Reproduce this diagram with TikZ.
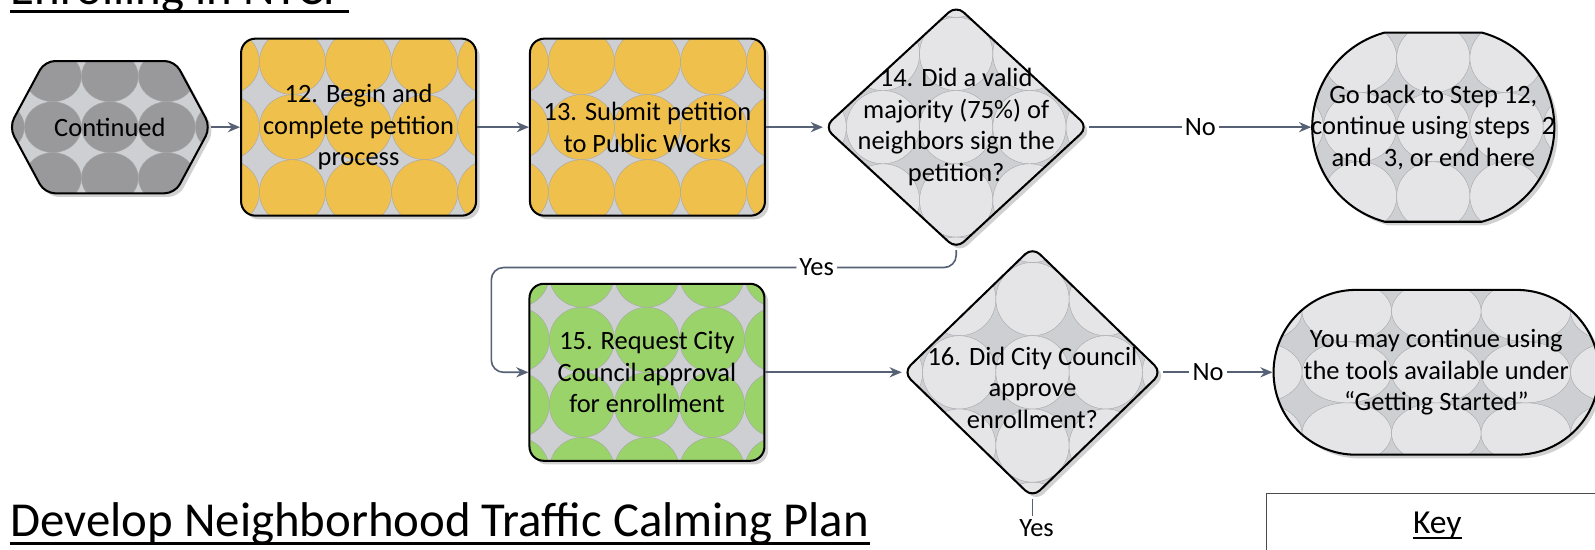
\documentclass[tikz,border=0pt]{standalone}
\usepackage{fontspec}
\setmainfont{Carlito}
\usepackage{tikz}
\usepackage{xcolor}
\usetikzlibrary{shapes.geometric,shapes.misc,arrows.meta,shadows}
\definecolor{petal-yellow}{RGB}{240,192,76}
\definecolor{petal-green}{RGB}{155,211,107}
\definecolor{petal-dark}{RGB}{153,153,155}
\definecolor{petal-light}{RGB}{229,229,231}
\definecolor{petal-gap}{RGB}{206,207,211}
\definecolor{link-gray}{RGB}{86,97,117}
\newcommand{\stepfont}{\fontsize{13}{15.5}\selectfont}
\newcommand{\headfont}{\fontsize{24}{29}\selectfont}
\newcommand{\keyfont}{\fontsize{16.5}{20}\selectfont}
\tikzset{
    petals/.style n args={5}{path picture={
        \fill[#2] (path picture bounding box.south west) rectangle (path picture bounding box.north east);
        \foreach \i in {-6,...,6}
            \foreach \j in {-4,...,4}
                \filldraw[fill=#1, draw=#2!80!black, line width=0.2pt]
                    ([xshift=\i*#3, yshift=\j*#4+#5]path picture bounding box.center)
                    ellipse [x radius=#3/2, y radius=#4/2];
    }},
    lifted/.style = {drop shadow={shadow xshift=1.8pt, shadow yshift=-1.8pt, fill=black!30, opacity=.6}},
    step-box/.style = {draw=black, line width=1pt, rectangle, rounded corners=7pt, lifted,
        minimum width=115.5pt, minimum height=87pt, inner sep=0pt, align=center, font=\stepfont},
    step-yellow/.style = {step-box, petals={petal-yellow}{petal-gap}{32.5pt}{32pt}{0pt}},
    step-green/.style = {step-box, petals={petal-green}{petal-gap}{32pt}{32pt}{16pt}},
    decision/.style = {draw=black, line width=1pt, diamond, rounded corners=5pt, lifted, inner sep=0pt,
        petals={petal-light}{petal-gap}{36pt}{36pt}{0pt}},
    terminal/.style = {draw=black, line width=1pt, rounded rectangle, lifted, inner sep=0pt},
    hexa-box/.style = {draw=black, line width=1pt, rounded corners=5pt, lifted,
        petals={petal-dark}{petal-gap}{28pt}{25pt}{0pt}},
    step-text/.style = {align=center, font=\stepfont, inner sep=0pt},
    link/.style = {draw=link-gray, line width=0.8pt, -{Stealth[length=6pt,width=5pt]}},
    link-label/.style = {fill=white, inner sep=1.5pt, font=\stepfont},
    head-title/.style = {anchor=base west, inner sep=0pt, font=\headfont},
}

\begin{document}
\begin{tikzpicture}[x=0.5pt, y=-0.5pt]
\path[use as bounding box] (0,0) rectangle (1568,540);
\node[head-title] (enroll) at (10,4) {Enrolling in NTCP};
\draw[line width=1.4pt] ([yshift=-3.5pt]enroll.base west) -- ([yshift=-3.5pt]enroll.base east);
\node[head-title] (develop) at (10,527) {Develop Neighborhood Traffic Calming Plan};
\draw[line width=1.4pt] ([yshift=-3.5pt]develop.base west) -- ([yshift=-3.5pt]develop.base east);

\draw[hexa-box] (9,125) -- (44,60) -- (172,60) -- (207,125) -- (172,190) -- (44,190) -- cycle;
\node[step-text, minimum width=99pt, minimum height=65pt] (cont) at (108,125) {Continued};
\node[step-yellow] (s12) at (352.5,125) {12. Begin and\\complete petition\\process};
\node[step-yellow] (s13) at (636.5,125) {13. Submit petition\\to Public Works};
\node[decision, minimum width=130pt, minimum height=120pt] (q14) at (940,125) {};
\node[step-text] (q14-text) at (q14) {14. Did a valid\\majority (75\%) of\\neighbors sign the\\petition?};
\node[terminal, rounded rectangle arc length=150, minimum width=119pt, minimum height=93pt,
    petals={petal-light}{petal-gap}{36pt}{34pt}{0pt}] (t1) at (1409,125) {};
\node[step-text] (t1-text) at (t1) {Go back to Step 12,\\continue using steps\ \ 2\\and\ \ 3, or end here};

\node[step-green] (s15) at (636,366) {15. Request City\\Council approval\\for enrollment};
\node[decision, minimum width=127.5pt, minimum height=123.5pt] (q16) at (1015,366) {};
\node[step-text] (q16-text) at (1015,381) {16. Did City Council\\approve\\enrollment?};
\node[terminal, minimum width=160pt, minimum height=81pt,
    petals={petal-light}{petal-gap}{44pt}{30pt}{0pt}] (t2) at (1412,366) {};
\node[step-text] (t2-text) at (t2) {You may continue using\\the tools available under\\“Getting Started”};

\coordinate (yes-turn) at (483,263);
\coordinate (yes-end) at (1015,507);
\draw[link] (cont.east) -- (s12.west);
\draw[link] (s12.east) -- (s13.west);
\draw[link] (s13.east) -- (q14.west);
\draw[link] (q14.east) -- node[link-label]{No} (t1.west);
\draw[link, rounded corners=6pt] (q14.south) |- node[link-label, pos=.65]{Yes} (yes-turn) |- (s15.west);
\draw[link] (s15.east) -- (q16.west);
\draw[link] (q16.east) -- node[link-label, pos=.41]{No} (t2.west);
\draw[link, -] (q16.south) -- (yes-end) node[link-label, anchor=north, xshift=2pt] (yes-low) {Yes};

\draw[draw=black!70, line width=0.6pt] (1245,485) rectangle (1600,570);
\node[anchor=base, inner sep=0pt, font=\keyfont] (key) at (1413,524) {Key};
\draw[line width=0.9pt] ([yshift=-2.5pt]key.base west) -- ([yshift=-2.5pt]key.base east);
\end{tikzpicture}
\end{document}
